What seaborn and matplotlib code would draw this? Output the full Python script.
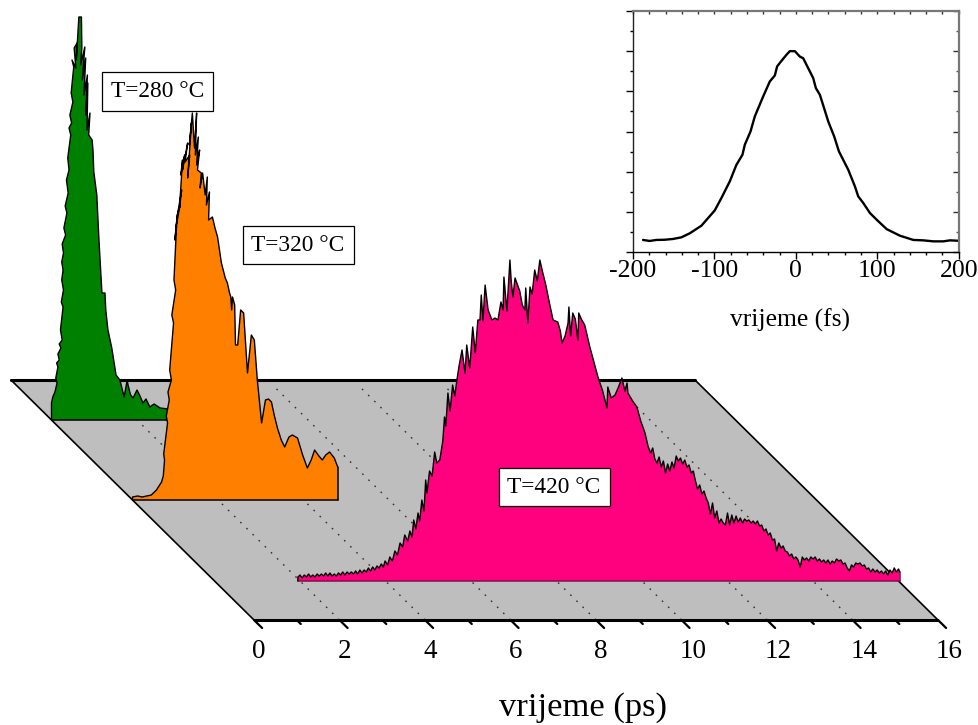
from __future__ import annotations

import matplotlib

matplotlib.use("Agg")

import matplotlib.pyplot as plt
import numpy as np
import pandas as pd
import seaborn as sns

# time in ps, height in arbitrary units
GREEN_T = [0.00, 0.00, 0.03, 0.08, 0.13, 0.10, 0.15, 0.12, 0.18, 0.15, 0.22, 0.18, 0.25, 0.21, 0.27, 0.23, 0.28, 0.24,
           0.27, 0.24, 0.28, 0.25, 0.33, 0.29, 0.36, 0.32, 0.39, 0.35, 0.41, 0.38, 0.45, 0.41, 0.47, 0.43, 0.50, 0.46,
           0.52, 0.48, 0.57, 0.53, 0.60, 0.58, 0.64, 0.64, 0.70, 0.71, 0.68, 0.78, 0.72, 0.80, 0.76, 0.84, 0.80, 0.85,
           0.83, 0.90, 0.87, 0.95, 0.97, 0.99, 1.06, 1.11, 1.18, 1.25, 1.27, 1.32, 1.41, 1.51, 1.60, 1.70, 1.77, 1.79,
           1.85, 1.91, 2.00, 2.07, 2.14, 2.21, 2.30, 2.40, 2.54, 2.73, 3.00, 3.00]
GREEN_H = [0, 17, 23, 28, 37, 42, 53, 57, 60, 66, 72, 76, 80, 90, 113, 118, 130, 140,
           150, 158, 167, 176, 185, 192, 207, 214, 227, 240, 250, 262, 285, 292, 297, 305, 318, 327,
           353, 360, 352, 372, 377, 360, 403, 403, 403, 372, 355, 373, 340, 362, 325, 345, 305, 337,
           290, 307, 285, 280, 270, 248, 225, 180, 127, 127, 110, 90, 72, 45, 40, 23, 40, 35,
           25, 22, 30, 24, 17, 21, 13, 16, 12, 11, 9, 0]

ORANGE_T = [0.00, 0.00, 0.12, 0.23, 0.33, 0.44, 0.56, 0.68, 0.72, 0.75, 0.73, 0.82, 0.79, 0.86, 0.83, 0.91, 0.87, 0.96,
            0.92, 1.01, 0.97, 1.03, 0.99, 1.05, 1.01, 1.11, 1.05, 1.15, 1.10, 1.17, 1.13, 1.22, 1.17, 1.29, 1.23, 1.34,
            1.29, 1.38, 1.33, 1.40, 1.45, 1.50, 1.47, 1.54, 1.50, 1.57, 1.52, 1.61, 1.58, 1.64, 1.70, 1.75, 1.73, 1.80,
            1.78, 1.87, 1.93, 1.99, 2.08, 2.17, 2.22, 2.27, 2.30, 2.32, 2.34, 2.39, 2.41, 2.46, 2.53, 2.60, 2.69, 2.78,
            2.85, 2.92, 3.02, 3.11, 3.18, 3.25, 3.32, 3.39, 3.48, 3.56, 3.66, 3.74, 3.86, 3.98, 4.09, 4.18, 4.26, 4.36,
            4.44, 4.52, 4.61, 4.72, 4.80, 4.80]
ORANGE_H = [0, 3, 4, 3, 4, 5, 10, 18, 24, 40, 46, 77, 84, 100, 108, 120, 130, 177,
            185, 210, 220, 274, 260, 285, 270, 295, 285, 310, 292, 340, 325, 345, 330, 357, 338, 345,
            322, 377, 355, 387, 352, 387, 345, 363, 335, 350, 330, 327, 312, 327, 305, 323, 295, 308,
            280, 283, 272, 263, 237, 222, 217, 207, 203, 190, 203, 195, 155, 155, 190, 187, 127, 165,
            160, 120, 77, 100, 101, 98, 84, 72, 60, 53, 63, 65, 62, 45, 32, 40, 50, 44,
            40, 45, 48, 42, 33, 0]

PINK_T = [1.95, 1.95, 2.00, 2.05, 2.10, 2.15, 2.20, 2.25, 2.30, 2.35, 2.40, 2.45, 2.50, 2.55, 2.60, 2.65, 2.70, 2.75,
          2.80, 2.85, 2.90, 2.95, 3.00, 3.05, 3.10, 3.15, 3.20, 3.25, 3.30, 3.35, 3.40, 3.45, 3.50, 3.55, 3.60, 3.65,
          3.70, 3.75, 3.80, 3.85, 3.90, 3.95, 3.99, 4.05, 4.10, 4.16, 4.22, 4.28, 4.34, 4.40, 4.45, 4.52, 4.57, 4.62,
          4.66, 4.71, 4.76, 4.80, 4.85, 4.90, 4.94, 4.97, 5.03, 5.09, 5.15, 5.20, 5.27, 5.34, 5.38, 5.41, 5.46, 5.51,
          5.57, 5.62, 5.67, 5.72, 5.79, 5.86, 5.90, 5.97, 6.04, 6.10, 6.16, 6.21, 6.24, 6.28, 6.33, 6.40, 6.49, 6.56,
          6.63, 6.70, 6.75, 6.77, 6.84, 6.91, 6.94, 6.98, 7.03, 7.14, 7.20, 7.26, 7.28, 7.33, 7.38, 7.43, 7.49, 7.55,
          7.61, 7.68, 7.75, 7.82, 7.92, 8.03, 8.09, 8.13, 8.20, 8.27, 8.29, 8.33, 8.38, 8.44, 8.50, 8.52, 8.58, 8.66,
          8.78, 8.88, 8.97, 9.08, 9.18, 9.20, 9.28, 9.37, 9.45, 9.53, 9.60, 9.65, 9.67, 9.78, 9.88, 9.97, 10.07, 10.14,
          10.20, 10.25, 10.30, 10.35, 10.40, 10.45, 10.50, 10.55, 10.60, 10.65, 10.70, 10.75, 10.80, 10.85, 10.90,
          10.95, 11.00, 11.05, 11.10, 11.15, 11.20, 11.25, 11.30, 11.35, 11.40, 11.45, 11.50, 11.55, 11.60, 11.65,
          11.70, 11.75, 11.80, 11.85, 11.90, 11.95, 12.00, 12.05, 12.10, 12.15, 12.20, 12.25, 12.30, 12.35, 12.40,
          12.45, 12.50, 12.55, 12.60, 12.65, 12.70, 12.75, 12.80, 12.85, 12.90, 12.95, 13.00, 13.05, 13.10, 13.15,
          13.20, 13.25, 13.30, 13.35, 13.40, 13.45, 13.50, 13.55, 13.60, 13.65, 13.70, 13.75, 13.80, 13.85, 13.90,
          13.95, 14.00, 14.05, 14.10, 14.15, 14.20, 14.25, 14.30, 14.35, 14.40, 14.45, 14.50, 14.55, 14.60, 14.65,
          14.70, 14.75, 14.80, 14.85, 14.90, 14.95, 15.00, 15.05, 15.10, 15.15, 15.20, 15.25, 15.30, 15.35, 15.40,
          15.45, 15.50, 15.55, 15.60, 15.65, 15.70, 15.75, 15.80, 15.85, 15.90, 15.95, 16.00, 16.03, 16.03]
PINK_H = [0, 4, 6, 3, 6, 4, 7, 4, 6, 4, 7, 5, 7, 5, 8, 5, 8, 5,
          7, 5, 8, 6, 9, 6, 9, 7, 9, 7, 10, 7, 11, 8, 11, 9, 13, 10,
          14, 11, 15, 13, 17, 14, 20, 16, 24, 20, 30, 26, 38, 34, 46, 40, 50, 44,
          61, 52, 68, 60, 81, 70, 101, 88, 110, 105, 129, 118, 121, 140, 164, 155, 188, 170,
          196, 185, 201, 215, 231, 208, 236, 213, 254, 228, 261, 261, 286, 260, 296, 271, 261, 263,
          261, 279, 271, 304, 270, 321, 300, 284, 303, 290, 276, 271, 293, 258, 294, 287, 311, 300,
          321, 308, 296, 281, 261, 259, 250, 238, 245, 258, 274, 245, 268, 262, 241, 268, 262, 256,
          234, 218, 204, 190, 173, 194, 183, 186, 194, 203, 190, 198, 188, 180, 174, 160, 148, 135,
          128, 133, 122, 118, 124, 114, 120, 108, 117, 110, 119, 113, 125, 120, 123,
          117, 121, 114, 116, 108, 110, 100, 92, 96, 87, 90, 83, 78, 67, 78,
          63, 70, 58, 62, 58, 56, 68, 56, 66, 58, 65, 59, 63, 58, 62,
          60, 61, 58, 60, 57, 60, 55, 56, 50, 52, 46, 48, 41, 42, 30,
          38, 33, 35, 30, 29, 25, 27, 22, 24, 21, 14, 24, 21, 23, 20,
          24, 22, 24, 20, 22, 19, 21, 18, 21, 17, 20, 18, 22, 20, 21,
          17, 18, 13, 10, 16, 14, 18, 17, 18, 15, 16, 12, 13, 9, 12,
          9, 11, 8, 10, 7, 10, 6, 11, 8, 13, 9, 12, 9, 0]

INSET_T = [-187.7, -179.5, -171.3, -161.0, -150.8, -140.6, -130.3, -116.0, -107.8, -99.6, -91.4, -81.1, -73.0,
           -65.6, -62.7, -55.7, -50.4, -40.2, -32.0, -25.8, -23.0, -17.6, -11.5, -7.4, -1.2, 4.9, 9.0, 15.2, 21.3,
           24.6, 29.5, 39.8, 47.1, 52.9, 64.3, 72.5, 76.6, 82.8, 91.0, 99.2, 111.5, 127.9, 144.3, 156.6, 168.9,
           181.1, 189.3, 199.6]
INSET_H = [0.060, 0.055, 0.060, 0.061, 0.065, 0.073, 0.093, 0.131, 0.169, 0.207, 0.269, 0.352, 0.434,
           0.484, 0.534, 0.600, 0.675, 0.774, 0.849, 0.879, 0.924, 0.952, 0.982, 1.000, 1.000, 0.973, 0.965, 0.915,
           0.866, 0.816, 0.783, 0.650, 0.575, 0.501, 0.410, 0.327, 0.277, 0.244, 0.194, 0.161, 0.114, 0.081, 0.060,
           0.058, 0.053, 0.053, 0.058, 0.056]

PLANE_TICKS = [0, 2, 4, 6, 8, 10, 12, 14, 16]
PLANE_MINOR = [1, 3, 5, 7, 9, 11, 13, 15]
INSET_TICKS = [-200, -100, 0, 100, 200]
GREEN_DEPTH = 200
ORANGE_DEPTH = 120
PINK_DEPTH = 39
BACK_DEPTH = 240
SHEAR = 1.0125 / 42.75  # ps per depth unit

FONT = ["Liberation Serif", "DejaVu Serif"]
GREY = "#bebebe"


def floor_x(t, depth):
    return np.asarray(t, dtype=float) - np.asarray(depth, dtype=float) * SHEAR


def draw_series(ax, t, h, depth, fill, edge, z):
    x = floor_x(t, depth)
    y = np.asarray(h, dtype=float) + depth
    ax.fill(x, y, facecolor=fill, edgecolor="none", zorder=z)
    ax.plot([x[0], x[-1]], [depth, depth], color=edge, lw=1.1, zorder=z + 0.1)
    ax.plot([x[-1], x[-1]], [depth, y[-2]], color=edge, lw=1.1, zorder=z + 0.1)
    frame = pd.DataFrame({"x": x[:-1], "y": y[:-1]})
    sns.lineplot(data=frame, x="x", y="y", sort=False, estimator=None, color="black", lw=1.0, ax=ax, zorder=z + 0.2)


def draw_floor(ax):
    corners_t = [0, 16, 16, 0]
    corners_d = [0, 0, BACK_DEPTH, BACK_DEPTH]
    ax.fill(floor_x(corners_t, corners_d), corners_d, color=GREY, lw=0, zorder=1)
    ax.plot(floor_x([0, 16], [0, 0]), [0, 0], color="black", lw=2.2, zorder=1.5, solid_capstyle="butt")
    ax.plot(floor_x([0, 16], [BACK_DEPTH, BACK_DEPTH]), [BACK_DEPTH, BACK_DEPTH], color="black", lw=2.2, zorder=1.5)
    for t in [0, 16]:
        ax.plot(floor_x([t, t], [0, BACK_DEPTH]), [0, BACK_DEPTH], color="black", lw=1.2, zorder=1.5)
    for t in PLANE_TICKS[1:-1]:
        ax.plot(floor_x([t, t], [0, 235]), [0, 235], color="#333333", lw=1.0, ls=(0, (1.2, 5.0)), zorder=1.2)
    for t in PLANE_TICKS:
        ax.plot(floor_x([t, t], [0, -8]), [0, -8], color="black", lw=1.6, zorder=1.5)
        ax.text(t - 2 / 42.75, -31, str(t), ha="left", va="center", fontsize=19.5)
    for t in PLANE_MINOR:
        ax.plot(floor_x([t, t], [0, -4]), [0, -4], color="black", lw=1.6, zorder=1.5)


def draw_inset(fig):
    ax = fig.add_axes([633 / 979, 1 - 252 / 725, 325.7 / 979, 241 / 725])
    frame = pd.DataFrame({"fs": INSET_T, "signal": INSET_H})
    sns.lineplot(data=frame, x="fs", y="signal", sort=False, estimator=None, color="black", lw=1.7, ax=ax)
    ax.set_xlim(-200, 200)
    ax.set_ylim(0, 1.2)
    ax.set_xticks(INSET_TICKS)
    ax.set_xticklabels([str(v) for v in INSET_TICKS])
    ax.set_xticks(np.arange(-200, 201, 20), minor=True)
    ax.set_yticks(np.arange(0, 1.21, 0.2))
    ax.set_yticks(np.arange(0, 1.21, 0.1), minor=True)
    ax.set_yticklabels([])
    ax.tick_params(which="major", length=5, width=1, color="black", left=True, bottom=True, direction="out")
    ax.tick_params(which="minor", length=2.5, width=1, color="black", left=True, bottom=True, direction="out")
    ax.tick_params(axis="x", labelsize=18.5, pad=1)
    top = ax.secondary_xaxis("top")
    top.set_xticks(np.arange(-200, 201, 20))
    top.set_xticklabels([])
    top.tick_params(direction="in", length=2.5, width=1, color="#333333")
    top.spines["top"].set_visible(False)
    right = ax.secondary_yaxis("right")
    right.set_yticks(np.arange(0, 1.21, 0.2))
    right.set_yticks(np.arange(0, 1.21, 0.1), minor=True)
    right.set_yticklabels([])
    right.tick_params(which="major", direction="in", length=4.5, width=1, color="#333333")
    right.tick_params(which="minor", direction="in", length=2, width=1, color="#555555")
    right.spines["right"].set_visible(False)
    for side, colour, width in [("left", "#222222", 1.0), ("bottom", "black", 1.0), ("top", "#777777", 1.6), ("right", "#777777", 1.6)]:
        ax.spines[side].set_visible(True)
        ax.spines[side].set_color(colour)
        ax.spines[side].set_linewidth(width)
    ax.set_ylabel("")
    ax.set_xlabel("vrijeme (fs)", fontsize=18.4)
    ax.xaxis.set_label_coords(0.482, -0.233)
    ax.patch.set_alpha(0)


def main() -> None:
    sns.set_theme(style="white")
    plt.rcParams["font.family"] = FONT
    plt.rcParams["text.color"] = "black"
    plt.rcParams["axes.labelcolor"] = "black"
    plt.rcParams["xtick.labelcolor"] = "black"
    fig = plt.figure(figsize=(9.79, 7.25), dpi=100)
    ax = fig.add_axes([0, 0, 1, 1])
    ax.set_xlim(-254 / 42.75, 725 / 42.75)
    ax.set_ylim(-105, 620)
    ax.axis("off")

    draw_floor(ax)
    draw_series(ax, GREEN_T, GREEN_H, GREEN_DEPTH, "#008000", "black", 3)
    draw_series(ax, ORANGE_T, ORANGE_H, ORANGE_DEPTH, "#ff8000", "black", 4)
    draw_series(ax, PINK_T, PINK_H, PINK_DEPTH, "#ff007f", "#80104f", 5)

    box = dict(boxstyle="square,pad=0.38", facecolor="white", edgecolor="black", lw=0.9)
    ax.text(-2.257, 528.5, "T=280 °C", ha="center", va="center", fontsize=16.8, bbox=box, zorder=8)
    ax.text(1.03, 375, "T=320 °C", ha="center", va="center", fontsize=16.8, bbox=box, zorder=8)
    ax.text(7.02, 133, "T=420 °C", ha="center", va="center", fontsize=16.8, bbox=box, zorder=8)
    ax.text(7.70, -88, "vrijeme (ps)", ha="center", va="center", fontsize=24.8)

    draw_inset(fig)
    fig.savefig("out.png", dpi=100)
    plt.close(fig)


if __name__ == "__main__":
    main()
